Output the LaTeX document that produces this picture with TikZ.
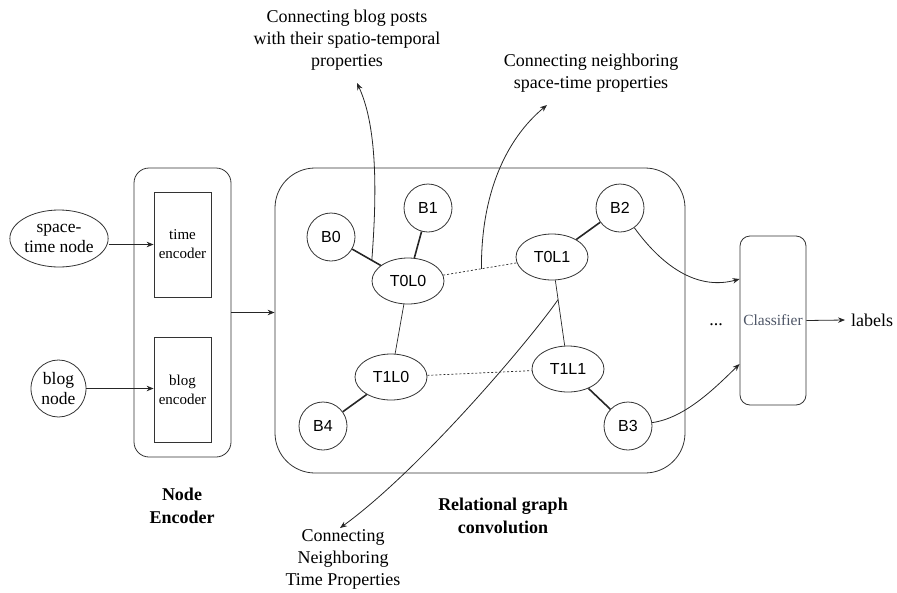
\documentclass[tikz,border=0pt]{standalone}
\usepackage{fontspec}
\setmainfont{Liberation Serif}
\newfontfamily\arialf{Liberation Sans}
\usetikzlibrary{shapes.geometric,arrows.meta,calc}
\definecolor{clsgray}{HTML}{4D5566}
\begin{document}
\begin{tikzpicture}[x=1pt,y=-1pt,
  every node/.style={font=\fontsize{18}{22}\selectfont},
  ln/.style={draw=black!80, line width=0.8pt},
  arr/.style={draw=black!85, line width=0.8pt, -{Stealth[length=7pt,width=5.5pt]}},
  gnode/.style={ln, circle, minimum size=48pt, inner sep=0pt, font=\arialf\fontsize{16}{18}\selectfont},
  tnode/.style={ln, ellipse, minimum width=72pt, minimum height=46pt, inner sep=0pt, font=\arialf\fontsize{16}{18}\selectfont},
  encbox/.style={ln, rectangle, minimum width=57pt, minimum height=105pt, align=center, inner sep=0pt, font=\fontsize{15}{19}\selectfont},
  thickedge/.style={draw=black!85, line width=1.6pt},
  thinedge/.style={draw=black!85, line width=0.7pt},
  dotedge/.style={draw=black!85, line width=0.7pt, dash pattern=on 2pt off 2pt},
  ann/.style={align=center, inner sep=0pt},
  boldlab/.style={align=center, inner sep=0pt, font=\bfseries\fontsize{18}{23}\selectfont},
]
\useasboundingbox (0,0) rectangle (897,592);

% Node encoder block
\node[ln, rounded corners=15pt, minimum width=97pt, minimum height=289pt, inner sep=0pt] (ne) at (182.5,312.5) {};
\node[encbox] (te) at (182.5,244.5) {time\\encoder};
\node[encbox] (be) at (182.5,389.5) {blog\\encoder};
\node[ln, ellipse, minimum width=96pt, minimum height=57pt, inner sep=0pt, align=center, font=\fontsize{17.5}{20}\selectfont] (st) at (59,238.5) {space-\\time node};
\node[ln, ellipse, minimum width=55pt, minimum height=57pt, inner sep=0pt, align=center, font=\fontsize{17.5}{20}\selectfont] (bn) at (58.5,388.5) {blog\\node};
\draw[arr] (te.west -| st.east) -- (te.west);
\draw[arr] (bn.east) -- (bn.east -| be.west);

% Relational graph block
\node[ln, rounded corners=40pt, minimum width=410pt, minimum height=305pt, inner sep=0pt] (rg) at (480,320.5) {};
\draw[arr] (ne.east) -- (ne.east -| rg.west);

\node[gnode] (B0) at (331,237) {B0};
\node[gnode] (B1) at (428,208) {B1};
\node[gnode] (B2) at (620,208) {B2};
\node[gnode] (B3) at (628,426) {B3};
\node[gnode] (B4) at (323,426) {B4};
\node[tnode] (T0L0) at (408,281) {T0L0};
\node[tnode] (T0L1) at (552,257) {T0L1};
\node[tnode] (T1L0) at (391,377) {T1L0};
\node[tnode] (T1L1) at (568,369) {T1L1};

\draw[thickedge] (B0) -- (T0L0);
\draw[thickedge] (B1) -- (T0L0);
\draw[thickedge] (B2) -- (T0L1);
\draw[thickedge] (B4) -- (T1L0);
\draw[thickedge] (B3) -- (T1L1);
\draw[thinedge] (T0L0) -- (T1L0);
\draw[thinedge] (T0L1) -- (T1L1);
\draw[dotedge] (T0L0) -- (T0L1);
\draw[dotedge] (T1L0) -- (T1L1);

% Classifier
\node[ln, rounded corners=10pt, minimum width=66pt, minimum height=169pt, inner sep=0pt, text=clsgray, font=\fontsize{15.5}{18}\selectfont] (cls) at (773,320.5) {Classifier};
\node[anchor=west, inner sep=0pt, inner xsep=6pt] (lab) at (845,320) {labels};
\draw[arr] (cls.east) -- (lab.west);
\node[inner sep=0pt] (dots) at (716,325) {...};

\draw[arr] (B2) .. controls (665,270) and (700,290) .. ($(cls.west)+(0,-41.5)$);
\draw[arr] (B3) .. controls (685,418) and (715,388) .. ($(cls.west)+(0,43.5)$);

% Annotations
\node[ann] (ann1) at (347,40) {Connecting blog posts\\with their spatio-temporal\\properties};
\node[ann] (ann2) at (591,73) {Connecting neighboring\\space-time properties};
\node[ann] (ann3) at (343,559) {Connecting\\Neighboring\\Time Properties};

\path (B0.center) -- (T0L0.center) coordinate[pos=0.53] (p1);
\path (T0L0.center) -- (T0L1.center) coordinate[pos=0.51] (p2);
\path (T0L1.center) -- (T1L1.center) coordinate[pos=0.38] (p3);
\coordinate (t1) at (357,83);
\coordinate (t2) at (547,105);
\coordinate (t3) at (340,528);

\draw[arr] (p1) .. controls (376,205) and (379,130) .. (t1);
\draw[arr] (p2) .. controls (481,195) and (505,140) .. (t2);
\draw[arr] (p3) .. controls (530,340) and (420,470) .. (t3);

% Block labels
\node[boldlab] (nel) at (182,506) {Node\\Encoder};
\node[boldlab] (rgl) at (503,516) {Relational graph\\convolution};
\end{tikzpicture}
\end{document}
